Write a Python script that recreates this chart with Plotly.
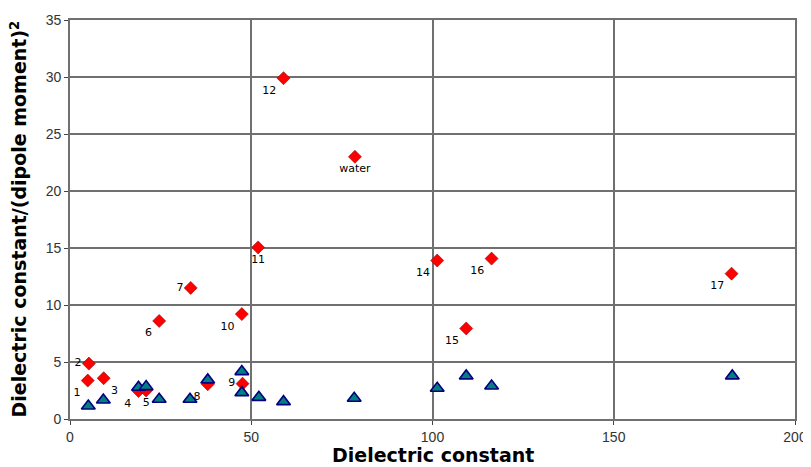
import plotly.graph_objects as go

# Red diamonds: dielectric constant vs dielectric constant/(dipole moment)^2
red_x = [4.9, 5.2, 9.3, 18.9, 21.0, 24.6, 33.3, 38.0, 47.6, 47.4, 51.9, 58.9, 78.6, 101.3, 109.3, 116.3, 182.5]
red_y = [3.37, 4.86, 3.58, 2.45, 2.5, 8.6, 11.5, 3.05, 3.1, 9.2, 15.05, 29.9, 23.0, 13.9, 7.94, 14.07, 12.75]
red_labels = ["1", "2", "3", "4", "5", "6", "7", "8", "9", "10", "11", "12", "water", "14", "15", "16", "17"]
red_label_pos = ["bottom left", "middle left", "bottom right", "bottom left", "bottom center",
                 "bottom left", "middle left", "bottom left", "middle left", "bottom left",
                 "bottom center", "bottom left", "bottom center", "bottom left", "bottom left",
                 "bottom left", "bottom left"]

# Blue triangles
tri_x = [5.05, 9.2, 18.9, 21.0, 24.6, 33.1, 38.0, 47.4, 47.4, 52.1, 58.9, 78.4, 101.3, 109.3, 116.3, 182.7]
tri_y = [1.14, 1.67, 2.78, 2.84, 1.73, 1.73, 3.43, 4.16, 2.31, 1.9, 1.52, 1.82, 2.7, 3.78, 2.9, 3.78]

x_ticks = [0, 50, 100, 150, 200]
y_ticks = [0, 5, 10, 15, 20, 25, 30, 35]

x_title = "<b>Dielectric constant</b>"
y_title = "<b>Dielectric constant/(dipole moment)<sup>2</sup></b>"

fig = go.Figure()
fig.add_trace(go.Scatter(
    x=red_x, y=red_y, mode="markers+text",
    text=red_labels, textposition=red_label_pos,
    textfont=dict(family="DejaVu Sans", size=11, color="#000000"),
    marker=dict(symbol="diamond", size=10, color="#FF0000",
                line=dict(color="#990000", width=0.6)),
    showlegend=False, cliponaxis=False,
))
fig.add_trace(go.Scatter(
    x=tri_x, y=tri_y, mode="markers",
    marker=dict(symbol="triangle-up", size=12, color="#008080",
                line=dict(color="#000080", width=1.6)),
    showlegend=False, cliponaxis=False,
))

grid_col = "#707070"
fig.update_layout(
    width=803, height=459,
    margin=dict(l=62, r=16, t=12, b=48),
    paper_bgcolor="white", plot_bgcolor="white",
    font=dict(family="Liberation Sans, Arial", size=14, color="#333333"),
    xaxis=dict(
        range=[0, 200], tickvals=x_ticks, ticktext=[str(v) for v in x_ticks],
        showgrid=True, gridcolor=grid_col, gridwidth=1.6,
        showline=True, linecolor=grid_col, linewidth=1.6, mirror=True,
        zeroline=False, ticks="outside", ticklen=4, tickcolor="#444444",
        automargin=False,
    ),
    yaxis=dict(
        range=[0, 35], tickvals=y_ticks, ticktext=[str(v) for v in y_ticks],
        showgrid=True, gridcolor=grid_col, gridwidth=1.6,
        showline=True, linecolor=grid_col, linewidth=1.6, mirror=True,
        zeroline=False, ticks="outside", ticklen=4, tickcolor="#444444",
        automargin=False,
    ),
    annotations=[
        dict(text=x_title, xref="paper", yref="paper", x=0.5, y=0,
             xanchor="center", yanchor="middle", yshift=-36, showarrow=False,
             font=dict(family="DejaVu Sans", size=19, color="#000000")),
        dict(text=y_title, xref="paper", yref="paper", x=0, y=0.5,
             xanchor="center", yanchor="middle", xshift=-52, textangle=-90,
             showarrow=False,
             font=dict(family="DejaVu Sans", size=19, color="#000000")),
    ],
)

fig.write_html("out.html")
